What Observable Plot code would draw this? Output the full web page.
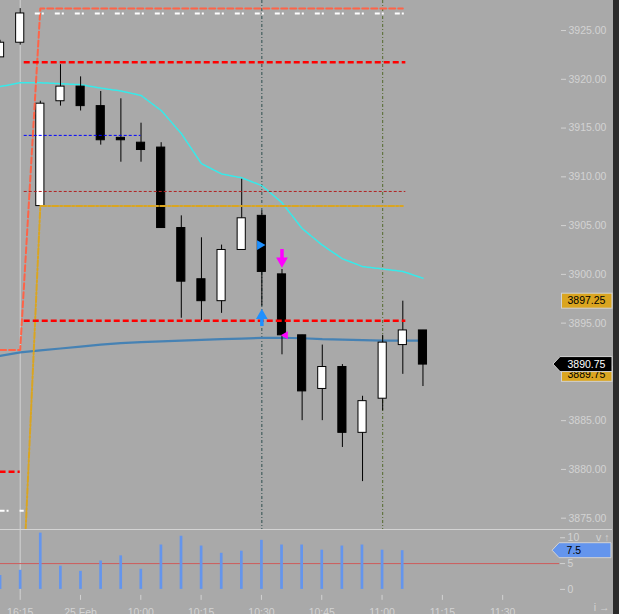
<!DOCTYPE html>
<html><head><meta charset="utf-8">
<script src="https://cdn.jsdelivr.net/npm/d3@7"></script>
<script src="https://cdn.jsdelivr.net/npm/@observablehq/plot@0.6"></script>
<style>
html,body{margin:0;padding:0;background:#2b2b2b;}
#wrap{position:relative;width:619px;height:614px;background:#2b2b2b;overflow:hidden;}
#inner{position:absolute;left:0;top:0;width:613px;height:614px;background:#a9a9a9;}
#vol{border-top:1px solid #d3d3d3;width:612px;}
svg{display:block;}
</style></head><body>
<div id="wrap"><div id="inner"><div id="price"></div><div id="vol"></div></div></div>
<script>
// ---- data (bar index: 0 = 16:15 bar, 5-minute bars) ----
const bars   = [-1, 0, 1, 2, 3, 4, 5, 6, 7, 8, 9, 10, 11, 12, 13, 14, 15, 16, 17, 18, 19, 20];
const open   = [3922.25, 3923.75, 3907.00, 3917.75, 3919.25, 3917.25, 3914.00, 3913.50, 3913.00, 3904.75, 3899.50, 3897.25, 3902.50, 3906.00, 3900.00, 3893.75, 3888.25, 3890.50, 3883.75, 3887.25, 3892.75, 3894.25];
const high   = [3924.00, 3927.25, 3917.75, 3921.50, 3920.25, 3918.75, 3918.00, 3915.50, 3913.50, 3906.00, 3903.75, 3903.00, 3909.75, 3906.50, 3900.50, 3893.75, 3892.75, 3890.75, 3887.50, 3893.75, 3897.25, 3894.25];
const low    = [3922.25, 3923.50, 3907.00, 3917.25, 3916.75, 3913.25, 3911.50, 3911.50, 3904.75, 3895.50, 3895.25, 3896.00, 3902.50, 3896.75, 3891.75, 3885.00, 3885.00, 3882.25, 3878.75, 3886.00, 3889.75, 3888.50];
const close  = [3923.75, 3926.75, 3917.50, 3919.25, 3917.25, 3913.75, 3913.75, 3912.75, 3904.75, 3899.25, 3897.25, 3902.50, 3905.75, 3900.25, 3893.75, 3888.00, 3890.50, 3883.75, 3887.00, 3893.00, 3894.25, 3890.75];
const volume = [2.7, 3.7, 10.9, 4.5, 3.5, 5.5, 6.5, 3.9, 8.6, 10.3, 8.4, 7.0, 7.4, 9.5, 8.6, 8.6, 7.6, 8.4, 8.6, 7.6, 7.5, null];
const volumeRef = 5;

const fastMA = [3919.25, 3919.65, 3919.65, 3919.55, 3919.45, 3919.10, 3918.80, 3918.35, 3916.80, 3914.45, 3911.35, 3910.30, 3909.90, 3909.10, 3907.35, 3904.70, 3903.00, 3901.60, 3900.80, 3900.55, 3900.30, 3899.60];
const slowMA = [3891.65, 3892.00, 3892.20, 3892.40, 3892.60, 3892.80, 3892.95, 3893.05, 3893.12, 3893.20, 3893.28, 3893.35, 3893.42, 3893.48, 3893.50, 3893.45, 3893.35, 3893.30, 3893.25, 3893.20, 3893.20, 3893.20];
const priorHighLine = [3892.25, 3892.25, 3927.25, 3927.25, 3927.25, 3927.25, 3927.25, 3927.25, 3927.25, 3927.25, 3927.25, 3927.25, 3927.25, 3927.25, 3927.25, 3927.25, 3927.25, 3927.25, 3927.25, 3927.25, 3927.25, null];
const openingLine   = [null, 3861.50, 3907.00, 3907.00, 3907.00, 3907.00, 3907.00, 3907.00, 3907.00, 3907.00, 3907.00, 3907.00, 3907.00, 3907.00, 3907.00, 3907.00, 3907.00, 3907.00, 3907.00, 3907.00, 3907.00, null];

// horizontal levels: [price, from bar, to bar]
const whiteLevels   = [[3875.75, -1, 0.2], [3926.75, 0.75, 19.15]];
const redLevels     = [[3879.75, -1, 0], [3921.75, 0.2, 19.15], [3895.25, 0.2, 19.15]];
const pivotLevels   = [[3908.50, 0.2, 19.15]];
const blueLevels    = [[3914.25, 0.2, 6]];

const sessionBar = 0;
const timeMarkers = [12, 18];
const buySignal  = {i: 12, y: 3894.65};
const sellSignal = {i: 13, y: 3902.55};
const blueFlag   = {i: 12, y: 3903.0};
const pinkFlag   = {i: 13, y: 3893.75};

const priceTicks = [3875, 3880, 3885, 3890, 3895, 3900, 3905, 3910, 3915, 3920, 3925];
const volTicks   = [0, 5, 10];
const timeTicks  = [0, 3, 6, 9, 12, 15, 18, 21, 24];
const timeLabels = ["16:15", "25 Feb", "10:00", "10:15", "10:30", "10:45", "11:00", "11:15", "11:30"];
const rangeLabels = [3897.25, 3889.75];
const lastPrice = 3890.75;
const lastVolume = 7.5;

// ---- build ----
const candles = bars.map((i, k) => ({i, o: open[k], h: high[k], l: low[k], c: close[k]}));
const vols = bars.map((i, k) => ({i, v: volume[k]})).filter(d => d.v != null);
const lv = arr => arr.map(([y, x1, x2]) => ({y, x1, x2}));
const xDomain = [-0.978, 26.83];
const font = "'Liberation Sans', Arial, sans-serif";
const light = "#d3d3d3";

const price = Plot.plot({
  width: 613, height: 529,
  marginLeft: 0, marginRight: 53, marginTop: 0, marginBottom: 0,
  x: {domain: xDomain, axis: null},
  y: {domain: [3873.84, 3928.08], axis: null},
  style: {background: "transparent", fontFamily: font, fontSize: "10.5px", overflow: "visible"},
  marks: [
    Plot.ruleX([sessionBar], {stroke: light, strokeWidth: 1}),
    Plot.ruleX([timeMarkers[0]], {stroke: "#2f4f4f", strokeDasharray: "3,2,1,2", strokeWidth: 1}),
    Plot.ruleX([timeMarkers[1]], {stroke: "#556b2f", strokeDasharray: "3,2,1,2", strokeWidth: 1}),
    Plot.line(bars, {x: d => d, y: (d, k) => slowMA[k], stroke: "#4682b4", strokeWidth: 2.2, clip: true}),
    Plot.line(bars, {x: d => d, y: (d, k) => fastMA[k], stroke: "#36eaea", strokeWidth: 1.5, strokeDasharray: "4,1", clip: true}),
    Plot.ruleX(candles, {x: "i", y1: "l", y2: "h", stroke: "black", strokeWidth: 1}),
    Plot.rect(candles, {x1: d => d.i - 0.5, x2: d => d.i + 0.5, y1: "o", y2: "c", insetLeft: 6, insetRight: 6,
      fill: d => d.c >= d.o ? "white" : "black", stroke: "black", strokeWidth: 1}),
    Plot.line(bars, {x: d => d, y: (d, k) => priorHighLine[k], stroke: "#ff6347", strokeWidth: 2, strokeDasharray: "6,3", clip: true}),
    Plot.line(bars, {x: d => d, y: (d, k) => openingLine[k], stroke: "#daa520", strokeWidth: 2, strokeDasharray: "6,2,2,2", clip: true}),
    Plot.ruleY(lv(whiteLevels), {y: "y", x1: "x1", x2: "x2", stroke: "white", strokeWidth: 2, strokeDasharray: "5,2,2,11", clip: true}),
    Plot.ruleY(lv(redLevels), {y: "y", x1: "x1", x2: "x2", stroke: "#ff0000", strokeWidth: 2.5, strokeDasharray: "6,3", clip: true}),
    Plot.ruleY(lv(pivotLevels), {y: "y", x1: "x1", x2: "x2", stroke: "#b22222", strokeWidth: 1, strokeDasharray: "3,2", clip: true}),
    Plot.ruleY(lv(blueLevels), {y: "y", x1: "x1", x2: "x2", stroke: "#0000ff", strokeWidth: 1, strokeDasharray: "3,2", clip: true}),
    // signals
    Plot.ruleX([buySignal], {x: "i", y1: "y", y2: d => d.y + 0.85, strokeWidth: 3.5, stroke: "#1e90ff"}),
    Plot.dot([buySignal], {x: "i", y: "y", dy: -11, symbol: "triangle", r: 3.4, fill: "#1e90ff", stroke: "#1e90ff"}),
    Plot.ruleX([sellSignal], {x: "i", y1: "y", y2: d => d.y - 0.95, strokeWidth: 3.5, stroke: "#ff00ff"}),
    Plot.dot([sellSignal], {x: "i", y: "y", dy: 11.5, symbol: "triangle", rotate: 180, r: 3.4, fill: "#ff00ff", stroke: "#ff00ff"}),
    Plot.dot([blueFlag], {x: "i", y: "y", dx: -2, symbol: "triangle", rotate: 90, r: 3.6, fill: "#1e90ff"}),
    Plot.dot([pinkFlag], {x: "i", y: "y", dx: 3.5, symbol: "triangle", rotate: -90, r: 3, fill: "#ff00ff"}),
    Plot.axisY({anchor: "right", ticks: priceTicks, tickFormat: d => d.toFixed(2), tickSize: 5, tickPadding: 3, color: light, line: true})
  ]
});

const vol = Plot.plot({
  width: 613, height: 84,
  marginLeft: 0, marginRight: 53, marginTop: 0, marginBottom: 19,
  x: {domain: xDomain, axis: null},
  y: {domain: [-1.16, 11.41], axis: null},
  style: {background: "transparent", fontFamily: font, fontSize: "10.5px", overflow: "visible"},
  marks: [
    Plot.ruleX([sessionBar], {stroke: light, strokeWidth: 1}),
    Plot.ruleY([volumeRef], {stroke: "#cd5c5c", strokeWidth: 1}),
    Plot.ruleX(vols, {x: "i", y1: 0, y2: "v", stroke: "#6495ed", strokeWidth: 2.7}),
    Plot.axisY({anchor: "right", ticks: volTicks, tickSize: 5, tickPadding: 3, color: light, line: true}),
    Plot.axisX({anchor: "bottom", ticks: timeTicks, tickFormat: d => timeLabels[timeTicks.indexOf(d)], tickSize: 5, tickPadding: 8, color: light, line: true})
  ]
});

document.getElementById("price").appendChild(price);
document.getElementById("vol").appendChild(vol);

// price markers on the right axis, positioned with Plot's own y scale
const ys = price.scale("y");
const gp = d3.select(price).append("g").attr("font-family", font).attr("font-size", "10.5px").attr("text-anchor", "start");
rangeLabels.forEach(v => {
  const cy = ys.apply(v);
  gp.append("rect").attr("x", 561.5).attr("y", cy - 7.5).attr("width", 50.5).attr("height", 15)
    .attr("fill", "#daa520").attr("stroke", light).attr("stroke-width", 1);
  gp.append("text").attr("x", 567.5).attr("y", cy).attr("dy", "0.35em").attr("fill", "black").text(v.toFixed(2));
});
function tag(g, cy, fill, txtColor, label) {
  g.append("path").attr("d", `M553,${cy} L560,${cy - 7.5} L612,${cy - 7.5} L612,${cy + 7.5} L560,${cy + 7.5} Z`)
    .attr("fill", fill).attr("stroke", light).attr("stroke-width", 1);
  g.append("text").attr("x", 567.5).attr("y", cy).attr("dy", "0.35em").attr("fill", txtColor).text(label);
}
tag(gp, ys.apply(lastPrice), "black", "white", lastPrice.toFixed(2));
const vs = vol.scale("y");
const gv = d3.select(vol).append("g").attr("font-family", font).attr("font-size", "10.5px").attr("text-anchor", "start");
tag(gv, vs.apply(lastVolume), "#6495ed", "black", String(lastVolume));
</script>
</body></html>
